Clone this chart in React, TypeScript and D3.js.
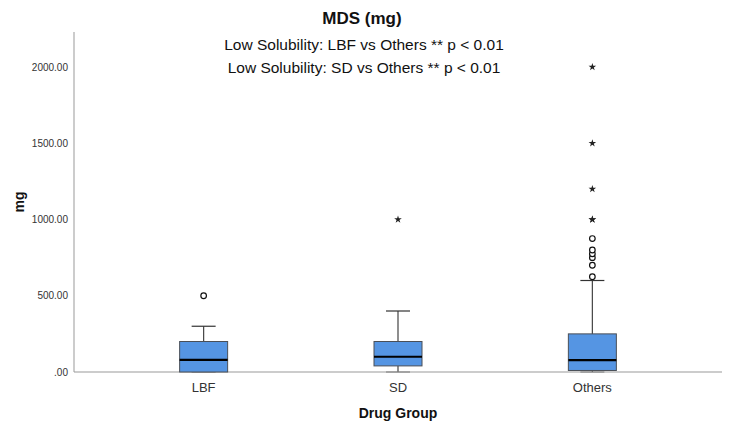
import React from "react";
import * as d3 from "d3";

const groups = ["LBF", "SD", "Others"];
const q1 = [0, 40, 10];
const medians = [80, 100, 78];
const q3 = [200, 200, 250];
const whiskerLow = [0, 0, 0];
const whiskerHigh = [300, 400, 600];
const outliers = [[500], [], [625, 700, 750, 775, 800, 875]];
const extremes = [[], [1000], [1000, 1000, 1200, 1500, 2000]];
const yTicks = [0, 500, 1000, 1500, 2000];
const subtitles = [
  "Low Solubility: LBF vs Others ** p < 0.01",
  "Low Solubility: SD vs Others ** p < 0.01",
];

const W = 731;
const H = 428;
const margin = { left: 74, right: 9, top: 32, bottom: 56 };

const App = () => {
  const x = d3
    .scalePoint()
    .domain(groups)
    .range([margin.left, W - margin.right])
    .padding(0.667);

  const y = d3
    .scaleLinear()
    .domain([0, 2000])
    .range([H - margin.bottom, 67]);

  const boxW = 48;
  const capW = 24;
  const font = "'Liberation Sans', Arial, sans-serif";
  const star = d3.symbol().type(d3.symbolStar).size(18);

  return (
    <svg width={W} height={H} style={{ position: "absolute", left: 0, top: 0, fontFamily: font }}>
      <rect width={W} height={H} fill="#fff" />
      <text x={362} y={24} textAnchor="middle" fontWeight="bold" fontSize={17} fill="#111">
        MDS (mg)
      </text>
      {subtitles.map((s, i) => (
        <text key={s} x={364} y={50 + i * 23} textAnchor="middle" fontSize={15.5} fill="#111">
          {s}
        </text>
      ))}

      {/* axes */}
      <line x1={margin.left} x2={margin.left} y1={margin.top} y2={y(0)} stroke="#999" strokeWidth={1} />
      <line x1={margin.left} x2={W - margin.right} y1={y(0)} y2={y(0)} stroke="#999" strokeWidth={1.2} />
      {yTicks.map((t) => (
        <text key={t} x={margin.left - 6} y={y(t) + 3.5} textAnchor="end" fontSize={10} fill="#333">
          {t === 0 ? ".00" : t.toFixed(2)}
        </text>
      ))}
      <text
        transform={`translate(${24},${202}) rotate(-90)`}
        textAnchor="middle"
        fontWeight="bold"
        fontSize={14}
        fill="#111"
      >
        mg
      </text>
      {groups.map((g) => (
        <text key={g} x={x(g)} y={392} textAnchor="middle" fontSize={13} fill="#333">
          {g}
        </text>
      ))}
      <text x={x("SD")} y={418} textAnchor="middle" fontWeight="bold" fontSize={14} fill="#111">
        Drug Group
      </text>

      {/* boxes */}
      {groups.map((g, i) => {
        const cx = x(g) as number;
        return (
          <g key={g}>
            <line x1={cx} x2={cx} y1={y(whiskerHigh[i])} y2={y(q3[i])} stroke="#444" strokeWidth={1.2} />
            <line x1={cx} x2={cx} y1={y(q1[i])} y2={y(whiskerLow[i])} stroke="#444" strokeWidth={1.2} />
            <line x1={cx - capW / 2} x2={cx + capW / 2} y1={y(whiskerHigh[i])} y2={y(whiskerHigh[i])} stroke="#333" strokeWidth={1.2} />
            <line x1={cx - capW / 2} x2={cx + capW / 2} y1={y(whiskerLow[i])} y2={y(whiskerLow[i])} stroke="#888" strokeWidth={1.2} />
            <rect
              x={cx - boxW / 2}
              y={y(q3[i])}
              width={boxW}
              height={y(q1[i]) - y(q3[i])}
              fill="#5595e3"
              stroke="#4a4f57"
              strokeWidth={1}
            />
            <line x1={cx - boxW / 2} x2={cx + boxW / 2} y1={y(medians[i])} y2={y(medians[i])} stroke="#000" strokeWidth={2.2} />
            {outliers[i].map((v, k) => (
              <circle key={"o" + k} cx={cx} cy={y(v)} r={2.8} fill="#fff" stroke="#111" strokeWidth={1.2} />
            ))}
            {extremes[i].map((v, k) => (
              <path key={"e" + k} d={star() as string} transform={`translate(${cx},${y(v)})`} fill="#222" />
            ))}
          </g>
        );
      })}
    </svg>
  );
};

export default App;
